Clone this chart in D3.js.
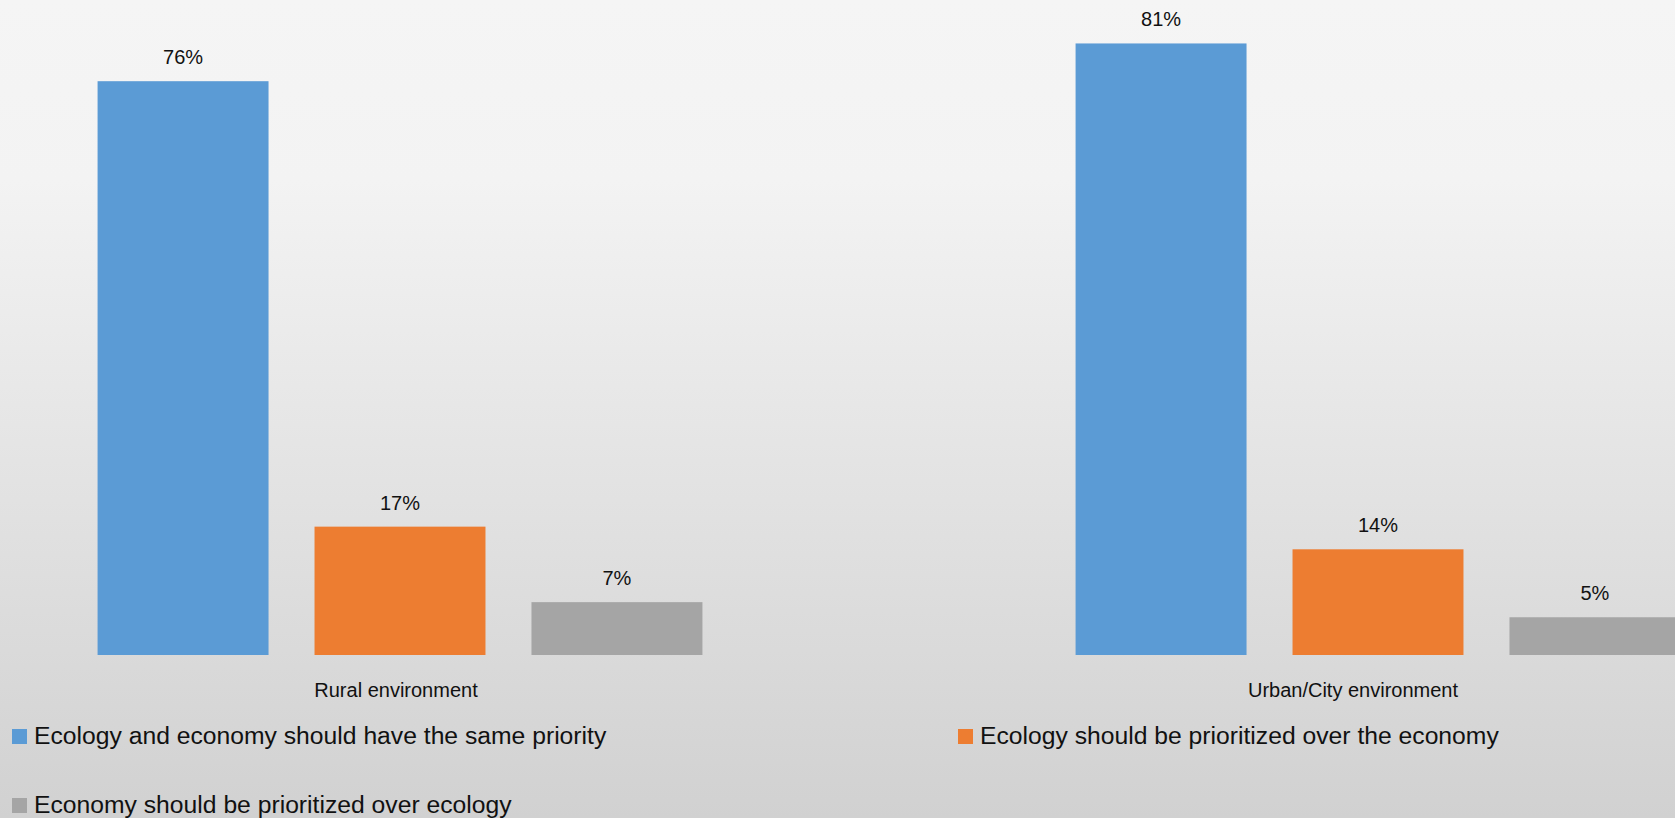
<!DOCTYPE html>
<html>
<head>
<meta charset="utf-8">
<script src="https://cdn.jsdelivr.net/npm/d3@7"></script>
<style>
  html, body { margin: 0; padding: 0; overflow: hidden; }
  svg { display: block; font-family: "Liberation Sans", Arial, sans-serif; }
</style>
</head>
<body>
<svg id="chart" width="1675" height="818"></svg>
<script>
// Survey answers by living environment (percent of respondents)
const categories = ["Rural environment", "Urban/City environment"];
const seriesNames = [
  "Ecology and economy should have the same priority",
  "Ecology should be prioritized over the economy",
  "Economy should be prioritized over ecology"
];
const sameP = [76, 81];
const ecologyFirst = [17, 14];
const economyFirst = [7, 5];
const seriesColors = ["#5b9bd5", "#ed7d31", "#a5a5a5"];

const seriesValues = [sameP, ecologyFirst, economyFirst];

const W = 1675, H = 818;
const svg = d3.select("#chart");

// Background gradient
const defs = svg.append("defs");
const grad = defs.append("linearGradient")
  .attr("id", "bg").attr("x1", 0).attr("y1", 0).attr("x2", 0).attr("y2", 1);
grad.append("stop").attr("offset", "0%").attr("stop-color", "#f5f5f5");
grad.append("stop").attr("offset", "22%").attr("stop-color", "#f3f3f3");
grad.append("stop").attr("offset", "100%").attr("stop-color", "#d1d1d1");
svg.append("rect").attr("width", W).attr("height", H).attr("fill", "url(#bg)");

// Scales
const baseline = 655;
const y = d3.scaleLinear().domain([0, 80]).range([baseline, 51]);

const x0 = d3.scaleBand().domain(categories).range([-89, 1867]).padding(0);
const x1 = d3.scaleBand().domain(d3.range(seriesNames.length))
  .range([0, x0.bandwidth()])
  .paddingInner(0.212).paddingOuter(0.86);

const rows = [];
categories.forEach((c, ci) => {
  seriesValues.forEach((vals, si) => {
    rows.push({ cat: c, s: si, v: vals[ci] });
  });
});

const g = svg.append("g");

g.selectAll("rect.bar").data(rows).join("rect")
  .attr("class", "bar")
  .attr("x", d => x0(d.cat) + x1(d.s))
  .attr("y", d => y(d.v))
  .attr("width", x1.bandwidth())
  .attr("height", d => y(0) - y(d.v))
  .attr("fill", d => seriesColors[d.s]);

g.selectAll("text.val").data(rows).join("text")
  .attr("class", "val")
  .attr("x", d => x0(d.cat) + x1(d.s) + x1.bandwidth() / 2)
  .attr("y", d => y(d.v) - 17)
  .attr("text-anchor", "middle")
  .attr("font-size", 20)
  .attr("fill", "#111")
  .text(d => d.v + "%");

// Category labels
const catLabelX = { "Rural environment": 396, "Urban/City environment": 1353 };
svg.selectAll("text.cat").data(categories).join("text")
  .attr("class", "cat")
  .attr("x", d => catLabelX[d])
  .attr("y", 697)
  .attr("text-anchor", "middle")
  .attr("font-size", 20)
  .attr("fill", "#111")
  .text(d => d);

// Legend
const legendPos = [
  { x: 12, y: 744 },
  { x: 958, y: 744 },
  { x: 12, y: 813 }
];
const leg = svg.selectAll("g.leg").data(seriesNames).join("g")
  .attr("class", "leg")
  .attr("transform", (d, i) => `translate(${legendPos[i].x},${legendPos[i].y})`);
leg.append("rect")
  .attr("x", 0).attr("y", -15).attr("width", 15).attr("height", 15)
  .attr("fill", (d, i) => seriesColors[i]);
leg.append("text")
  .attr("x", 22).attr("y", 0)
  .attr("font-size", 24.7)
  .attr("fill", "#111")
  .text(d => d);
</script>
</body>
</html>
